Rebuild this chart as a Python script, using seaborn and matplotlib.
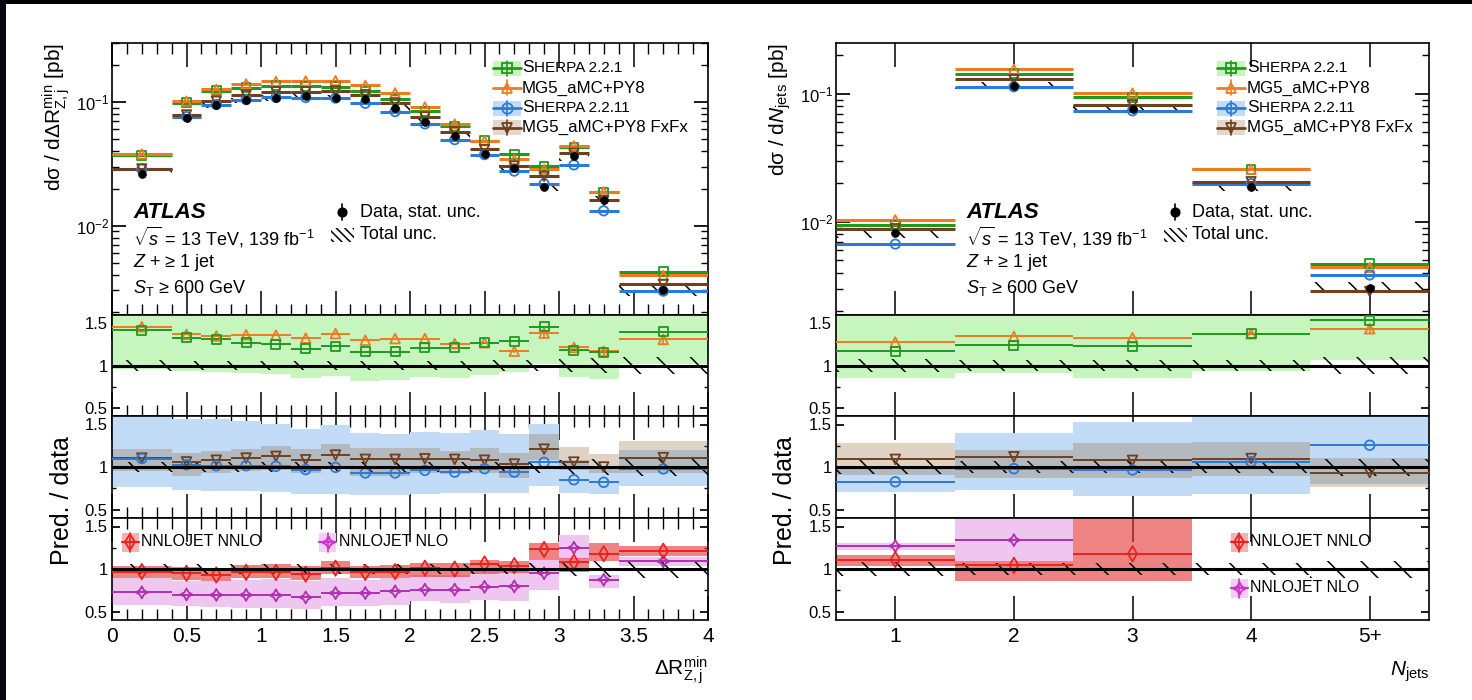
import numpy as np
import matplotlib
matplotlib.use("Agg")
import matplotlib.pyplot as plt
import seaborn as sns
from matplotlib.patches import Rectangle
from matplotlib.lines import Line2D
from matplotlib.ticker import MultipleLocator, FixedLocator, FuncFormatter, LogLocator, NullFormatter, NullLocator
from matplotlib.offsetbox import TextArea, HPacker, AnnotationBbox

# ---------------------------------------------------------------- left: dR(Z,j)
dr_edges = [0.0, 0.4, 0.6, 0.8, 1.0, 1.2, 1.4, 1.6, 1.8, 2.0, 2.2, 2.4, 2.6, 2.8, 3.0, 3.2, 3.4, 4.0]
dr_data = [0.0261, 0.0743, 0.094, 0.103, 0.108, 0.112, 0.108, 0.105, 0.090, 0.0693, 0.0528,
           0.0383, 0.0294, 0.0207, 0.0365, 0.0161, 0.00303]
dr_tot_unc = [0.06, 0.055, 0.055, 0.055, 0.055, 0.055, 0.055, 0.055, 0.055, 0.055, 0.055,
              0.06, 0.06, 0.07, 0.08, 0.09, 0.10]
# ratios prediction / data
dr_sherpa221 = [1.42, 1.33, 1.31, 1.27, 1.255, 1.20, 1.23, 1.165, 1.165, 1.21, 1.21, 1.27, 1.29, 1.46, 1.18, 1.16, 1.40]
dr_sherpa221_lo = [0.96, 0.94, 0.92, 0.91, 0.895, 0.855, 0.88, 0.82, 0.83, 0.86, 0.855, 0.89, 0.92, 1.02, 0.86, 0.835, 1.02]
dr_sherpa221_hi = [1.88, 1.72, 1.70, 1.63, 1.62, 1.65, 1.66, 1.61, 1.62, 1.65, 1.66, 1.65, 1.66, 1.90, 1.70, 1.68, 1.78]
dr_mg5 = [1.46, 1.37, 1.35, 1.365, 1.36, 1.325, 1.38, 1.30, 1.32, 1.32, 1.26, 1.27, 1.17, 1.385, 1.215, 1.17, 1.31]
dr_mg5_err = [0.02, 0.01, 0.01, 0.01, 0.01, 0.01, 0.02, 0.01, 0.01, 0.01, 0.01, 0.01, 0.02, 0.05, 0.02, 0.05, 0.07]
dr_sherpa2211 = [1.10, 1.027, 1.015, 1.015, 1.008, 0.97, 0.996, 0.93, 0.93, 0.96, 0.94, 0.98, 0.94, 1.054, 0.85, 0.82, 0.977]
dr_sherpa2211_lo = [0.763, 0.725, 0.72, 0.72, 0.71, 0.686, 0.68, 0.674, 0.674, 0.68, 0.697, 0.697, 0.697, 0.78, 0.70, 0.68, 0.78]
dr_sherpa2211_hi = [1.65, 1.57, 1.56, 1.54, 1.51, 1.45, 1.49, 1.395, 1.39, 1.41, 1.395, 1.44, 1.39, 1.51, 1.085, 1.00, 1.20]
dr_fxfx = [1.105, 1.06, 1.08, 1.105, 1.125, 1.085, 1.14, 1.09, 1.09, 1.097, 1.09, 1.08, 1.035, 1.21, 1.058, 1.0, 1.11]
dr_fxfx_lo = [0.957, 0.90, 0.93, 0.95, 0.97, 0.93, 0.99, 0.90, 0.90, 0.93, 0.915, 0.93, 0.872, 1.085, 0.97, 0.93, 0.93]
dr_fxfx_hi = [1.21, 1.163, 1.19, 1.21, 1.25, 1.21, 1.27, 1.22, 1.22, 1.228, 1.19, 1.22, 1.163, 1.383, 1.24, 1.15, 1.306]
dr_nnlo = [0.97, 0.95, 0.93, 0.96, 0.96, 0.94, 1.01, 0.96, 0.97, 1.01, 1.0, 1.06, 1.04, 1.23, 1.08, 1.18, 1.21]
dr_nnlo_lo = [0.90, 0.87, 0.86, 0.89, 0.89, 0.87, 0.94, 0.89, 0.90, 0.91, 0.91, 0.945, 0.95, 1.11, 0.97, 1.09, 1.15]
dr_nnlo_hi = [1.04, 1.02, 1.01, 1.05, 1.06, 1.03, 1.10, 1.03, 1.05, 1.07, 1.07, 1.11, 1.09, 1.31, 1.13, 1.31, 1.27]
dr_nlo = [0.725, 0.70, 0.695, 0.695, 0.69, 0.666, 0.717, 0.717, 0.737, 0.757, 0.757, 0.79, 0.795, 0.95, 1.25, 0.874, 1.09]
dr_nlo_lo = [0.58, 0.56, 0.55, 0.545, 0.545, 0.53, 0.56, 0.56, 0.58, 0.62, 0.60, 0.64, 0.62, 0.75, 1.12, 0.78, 1.04]
dr_nlo_hi = [0.894, 0.855, 0.855, 0.874, 0.88, 0.855, 0.894, 0.874, 0.894, 0.933, 0.933, 0.972, 0.972, 1.11, 1.40, 0.933, 1.14]

# ---------------------------------------------------------------- right: N_jets
nj_labels = ["1", "2", "3", "4", "5+"]
nj_pos = [1, 2, 3, 4, 5]
nj_edges = [0.5, 1.5, 2.5, 3.5, 4.5, 5.5]
nj_data = [0.00811, 0.116, 0.0764, 0.01875, 0.00306]
nj_tot_unc = [0.08, 0.065, 0.065, 0.07, 0.10]
nj_sherpa221 = [1.167, 1.238, 1.23, 1.377, 1.536]
nj_sherpa221_lo = [0.85, 0.91, 0.85, 0.93, 1.07]
nj_sherpa221_hi = [1.70, 1.75, 1.75, 1.85, 2.00]
nj_mg5 = [1.278, 1.345, 1.33, 1.377, 1.437]
nj_mg5_err = [0.01, 0.01, 0.01, 0.02, 0.05]
nj_sherpa2211 = [0.826, 0.98, 0.965, 1.062, 1.256]
nj_sherpa2211_lo = [0.71, 0.733, 0.663, 0.68, 0.80]
nj_sherpa2211_hi = [0.99, 1.40, 1.527, 1.70, 1.75]
nj_fxfx = [1.09, 1.12, 1.078, 1.10, 0.934]
nj_fxfx_lo = [0.91, 0.876, 0.868, 0.895, 0.767]
nj_fxfx_hi = [1.283, 1.20, 1.283, 1.295, 1.11]
nj_nnlo = [1.111, 1.044, 1.179, np.nan, np.nan]
nj_nnlo_lo = [1.04, 0.853, 0.853, np.nan, np.nan]
nj_nnlo_hi = [1.159, 1.09, 1.80, np.nan, np.nan]
nj_nlo = [1.27, 1.34, np.nan, np.nan, np.nan]
nj_nlo_lo = [1.22, 1.09, np.nan, np.nan, np.nan]
nj_nlo_hi = [1.31, 1.80, np.nan, np.nan, np.nan]

# ---------------------------------------------------------------- style
C_GREEN = "#1f9a1f"
C_ORANGE = "#f07a22"
C_BLUE = "#2a7ad8"
C_BROWN = "#6e4020"
C_RED = "#e8231e"
C_MAG = "#b030b0"
B_GREEN = "#c6f5bd"
B_BLUE = "#c2dbf6"
B_BROWN = (0.55, 0.38, 0.20, 0.28)
B_RED = (0.90, 0.22, 0.22, 0.62)
B_PINK = "#efc6ef"

sns.set_theme(style="ticks")
plt.rcParams["font.family"] = ["Liberation Sans", "DejaVu Sans"]
plt.rcParams["mathtext.fontset"] = "custom"
plt.rcParams["mathtext.rm"] = "Liberation Sans"
plt.rcParams["mathtext.it"] = "Liberation Sans:italic"
plt.rcParams["mathtext.bf"] = "Liberation Sans:bold"
plt.rcParams["hatch.linewidth"] = 1.1
plt.rcParams["axes.linewidth"] = 1.2
plt.rcParams["axes.edgecolor"] = "black"
plt.rcParams["xtick.color"] = "black"
plt.rcParams["ytick.color"] = "black"
plt.rcParams["text.color"] = "black"

W, H = 1472, 700
fig = plt.figure(figsize=(W / 100, H / 100), dpi=100)
fig.patch.set_facecolor("white")


def add_ax(x0, x1, y0, y1):
    return fig.add_axes([x0 / W, 1 - y1 / H, (x1 - x0) / W, (y1 - y0) / H])


rows = [(43, 315), (315, 416), (416, 518), (518, 620)]
L = [add_ax(112, 708, *r) for r in rows]
R = [add_ax(836, 1429, *r) for r in rows]


def arr(v):
    return np.asarray(v, dtype=float)


def centers(edges):
    e = arr(edges)
    return 0.5 * (e[:-1] + e[1:])


def hbins(ax, edges, vals, color, lw, z=4):
    e, v = arr(edges), arr(vals)
    m = np.isfinite(v)
    ax.hlines(v[m], e[:-1][m], e[1:][m], colors=color, lw=lw, zorder=z)


def band(ax, edges, lo, hi, color, z=1):
    e, lo, hi = arr(edges), arr(lo), arr(hi)
    m = np.isfinite(lo)
    ax.bar(e[:-1][m], (hi - lo)[m], bottom=lo[m], width=np.diff(e)[m], align="edge",
           color=color, lw=0, zorder=z)


def hatch_band(ax, edges, lo, hi, z=3):
    e, lo, hi = arr(edges), arr(lo), arr(hi)
    ax.bar(e[:-1], hi - lo, bottom=lo, width=np.diff(e), align="edge", fill=False,
           hatch="\\", edgecolor="black", lw=0, zorder=z)


def marks(ax, x, y, color, marker, s=48, lw=1.3, z=6, face="none"):
    x, y = arr(x), arr(y)
    m = np.isfinite(y)
    sns.scatterplot(x=x[m], y=y[m], marker=marker, s=s, color=face, edgecolor=color,
                    linewidth=lw, ax=ax, zorder=z, legend=False)


def errs(ax, x, y, e, color, lw=1.2, z=5):
    x, y, e = arr(x), arr(y), arr(e)
    ax.vlines(x, y - e, y + e, colors=color, lw=lw, zorder=z)


def px_to_axes(ax, x, y):
    bb = ax.get_position()
    return ((x / W) - bb.x0) / bb.width, ((1 - y / H) - bb.y0) / bb.height


def handle(ax, xc, yc, color, marker, band_color=None, w=28, h=15, ms=7.5, lw=2.0, mfc="none", vbar=True):
    bb = ax.get_position()
    aw, ah = bb.width * W, bb.height * H
    x, y = px_to_axes(ax, xc, yc)
    dx, dy = w / aw / 2, h / ah / 2
    if band_color is not None:
        ax.add_patch(Rectangle((x - dx, y - dy), 2 * dx, 2 * dy, transform=ax.transAxes,
                               facecolor=band_color, edgecolor="none", zorder=8))
    if lw > 0:
        ax.add_line(Line2D([x - dx, x + dx], [y, y], transform=ax.transAxes, color=color, lw=lw, zorder=9))
    if vbar:
        ax.add_line(Line2D([x, x], [y - dy, y + dy], transform=ax.transAxes, color=color, lw=1.2, zorder=9))
    ax.add_line(Line2D([x], [y], transform=ax.transAxes, marker=marker, ms=ms, mfc=mfc, mec=color,
                       mew=1.3, ls="none", zorder=10))


def hatch_handle(ax, xc, yc, w=23, h=14):
    bb = ax.get_position()
    aw, ah = bb.width * W, bb.height * H
    x, y = px_to_axes(ax, xc, yc)
    dx, dy = w / aw / 2, h / ah / 2
    ax.add_patch(Rectangle((x - dx, y - dy), 2 * dx, 2 * dy, transform=ax.transAxes, fill=False,
                           hatch="\\\\\\\\", edgecolor="black", lw=0, zorder=8))


def label(ax, x, y, s, **kw):
    ax_x, ax_y = px_to_axes(ax, x, y)
    kw.setdefault("fontsize", 13)
    ax.text(ax_x, ax_y, s, transform=ax.transAxes, va="center", ha="left", **kw)


def smallcaps(ax, x, y, big, small, size=12.5):
    ax_x, ax_y = px_to_axes(ax, x, y)
    box = HPacker(children=[TextArea(big, textprops=dict(fontsize=size)),
                            TextArea(small, textprops=dict(fontsize=size * 0.88))],
                  align="baseline", pad=0, sep=0)
    ab = AnnotationBbox(box, (ax_x, ax_y), xycoords="axes fraction", box_alignment=(0, 0.5),
                        frameon=False, pad=0)
    ax.add_artist(ab)


# ---------------------------------------------------------------- draw one column
def draw_column(axes, edges, data, tot, s221, s221_lo, s221_hi, mg5, mg5_err, s2211, s2211_lo, s2211_hi,
                fxfx, fxfx_lo, fxfx_hi, nnlo, nnlo_lo, nnlo_hi, nlo, nlo_lo, nlo_hi, ylim_top):
    e = arr(edges)
    c = centers(edges)
    d, u = arr(data), arr(tot)
    ax0, ax1, ax2, ax3 = axes

    # main panel
    ax0.set_yscale("log")
    hatch_band(ax0, e, d * (1 - u), d * (1 + u))
    for vals, col in [(s221, C_GREEN), (mg5, C_ORANGE), (s2211, C_BLUE), (fxfx, C_BROWN)]:
        hbins(ax0, e, d * arr(vals), col, 2.2)
    marks(ax0, c, d * arr(s221), C_GREEN, "s", s=40)
    marks(ax0, c, d * arr(mg5), C_ORANGE, "^", s=45)
    marks(ax0, c, d * arr(s2211), C_BLUE, "o", s=45)
    marks(ax0, c, d * arr(fxfx), C_BROWN, "v", s=45)
    marks(ax0, c, d, "black", "o", s=32, face="black", lw=0.5, z=8)
    ax0.set_ylim(*ylim_top)

    # ratio 1
    band(ax1, e, s221_lo, s221_hi, B_GREEN)
    hatch_band(ax1, e, 1 - u, 1 + u)
    hbins(ax1, e, mg5, C_ORANGE, 1.4)
    hbins(ax1, e, s221, C_GREEN, 1.4)
    errs(ax1, c, mg5, mg5_err, C_ORANGE)
    marks(ax1, c, mg5, C_ORANGE, "^")
    marks(ax1, c, s221, C_GREEN, "s", s=42)

    # ratio 2
    band(ax2, e, s2211_lo, s2211_hi, B_BLUE)
    band(ax2, e, fxfx_lo, fxfx_hi, B_BROWN, z=2)
    hatch_band(ax2, e, 1 - u, 1 + u)
    hbins(ax2, e, fxfx, C_BROWN, 1.4)
    hbins(ax2, e, s2211, C_BLUE, 1.4)
    marks(ax2, c, fxfx, C_BROWN, "v")
    marks(ax2, c, s2211, C_BLUE, "o")

    # ratio 3
    band(ax3, e, nlo_lo, nlo_hi, B_PINK)
    band(ax3, e, nnlo_lo, nnlo_hi, B_RED, z=2)
    hatch_band(ax3, e, 1 - u, 1 + u)
    hbins(ax3, e, nlo, C_MAG, 1.4)
    hbins(ax3, e, nnlo, C_RED, 1.4)
    marks(ax3, c, nlo, C_MAG, (4, 1, 0), s=75)
    marks(ax3, c, nnlo, C_RED, "d", s=60)

    for ax in (ax1, ax2, ax3):
        ax.set_ylim(0.4, 1.6)
        ax.axhline(1.0, color="black", lw=2.2, zorder=7)
        ax.yaxis.set_major_locator(FixedLocator([0.5, 1.0, 1.5]))
        ax.yaxis.set_major_formatter(FuncFormatter(lambda v, p: f"{v:g}"))
        ax.yaxis.set_minor_locator(FixedLocator([0.75, 1.25]))
        ax.tick_params(axis="y", which="major", direction="in", length=6, left=True, right=True,
                       labelsize=12, pad=3)
        ax.tick_params(axis="y", which="minor", direction="in", length=3, left=True, right=True)
    ax0.yaxis.set_minor_formatter(NullFormatter())
    ax0.tick_params(axis="y", which="major", direction="in", length=10, left=True, right=True,
                    labelsize=12, pad=2)
    ax0.tick_params(axis="y", which="minor", direction="in", length=5, left=True, right=True)
    for ax in axes:
        ax.set_xlim(e[0], e[-1])
        ax.set_xlabel("")
        ax.set_ylabel("")
        ax.tick_params(axis="x", which="major", direction="in", length=17, top=True, bottom=True,
                       labelbottom=False, width=1.1)
        ax.tick_params(axis="x", which="minor", direction="in", length=8, top=True, bottom=True, width=1.0)
        for sp in ax.spines.values():
            sp.set_color("black")
            sp.set_linewidth(1.2)
    ax3.tick_params(axis="x", which="major", labelbottom=True, labelsize=15, pad=5)


draw_column(L, dr_edges, dr_data, dr_tot_unc, dr_sherpa221, dr_sherpa221_lo, dr_sherpa221_hi,
            dr_mg5, dr_mg5_err, dr_sherpa2211, dr_sherpa2211_lo, dr_sherpa2211_hi,
            dr_fxfx, dr_fxfx_lo, dr_fxfx_hi, dr_nnlo, dr_nnlo_lo, dr_nnlo_hi,
            dr_nlo, dr_nlo_lo, dr_nlo_hi, (1.9e-3, 0.30))
draw_column(R, nj_edges, nj_data, nj_tot_unc, nj_sherpa221, nj_sherpa221_lo, nj_sherpa221_hi,
            nj_mg5, nj_mg5_err, nj_sherpa2211, nj_sherpa2211_lo, nj_sherpa2211_hi,
            nj_fxfx, nj_fxfx_lo, nj_fxfx_hi, nj_nnlo, nj_nnlo_lo, nj_nnlo_hi,
            nj_nlo, nj_nlo_lo, nj_nlo_hi, (1.87e-3, 0.25))

for ax in L:
    ax.xaxis.set_major_locator(MultipleLocator(0.5))
    ax.xaxis.set_minor_locator(MultipleLocator(0.1))
    ax.xaxis.set_major_formatter(FuncFormatter(lambda v, p: f"{v:g}"))
for ax in R:
    ax.xaxis.set_major_locator(FixedLocator(nj_pos))
    ax.xaxis.set_minor_locator(NullLocator())
    ax.xaxis.set_major_formatter(FuncFormatter(lambda v, p: nj_labels[int(round(v)) - 1]
                                               if 1 <= round(v) <= 5 else ""))
for ax in (L[0], R[0]):
    ax.yaxis.set_major_locator(LogLocator(base=10))
    ax.yaxis.set_minor_locator(LogLocator(base=10, subs=np.arange(2, 10)))
    ax.yaxis.set_minor_formatter(NullFormatter())

# ---------------------------------------------------------------- legends & labels
for ax, hx, tx in [(L[0], 507, 522), (R[0], 1231, 1247)]:
    handle(ax, hx, 68, C_GREEN, "s", B_GREEN, ms=7)
    smallcaps(ax, tx, 68, "S", "HERPA 2.2.1")
    handle(ax, hx, 88, C_ORANGE, "^", None)
    label(ax, tx, 88, "MG5_aMC+PY8", fontsize=12.2)
    handle(ax, hx, 108, C_BLUE, "o", B_BLUE)
    smallcaps(ax, tx, 108, "S", "HERPA 2.2.11")
    handle(ax, hx, 127.5, C_BROWN, "v", (0.55, 0.38, 0.20, 0.25))
    label(ax, tx, 127.5, "MG5_aMC+PY8 FxFx", fontsize=12.2)

for ax, ax_x, mx, tx in [(L[0], 133, 342, 360), (R[0], 966, 1175, 1192)]:
    label(ax, ax_x, 212, "ATLAS", fontsize=16, fontweight="bold", fontstyle="italic")
    label(ax, ax_x, 237, r"$\sqrt{s}$ = 13 TeV, 139 fb$^{-1}$")
    label(ax, ax_x, 263, "$Z$ + ≥ 1 jet")
    label(ax, ax_x, 288, r"$S_\mathrm{T}$ ≥ 600 GeV")
    handle(ax, mx, 212, "black", "o", None, w=0, h=16, ms=6, lw=0, mfc="black")
    label(ax, tx, 212, "Data, stat. unc.")
    hatch_handle(ax, mx, 235)
    label(ax, tx, 235, "Total unc.")

handle(L[3], 130, 542, C_RED, "d", "#f5b2b2", w=17, h=19, ms=8, lw=1.6)
label(L[3], 141, 542, "NNLOJET NNLO", fontsize=11.5)
handle(L[3], 328, 542, "#cc33cc", (4, 1, 0), "#f5ccf5", w=17, h=19, ms=9, lw=1.6)
label(L[3], 339, 542, "NNLOJET NLO", fontsize=11.5)
handle(R[3], 1239, 542, C_RED, "d", "#f5b2b2", w=17, h=19, ms=8, lw=1.6)
label(R[3], 1250, 542, "NNLOJET NNLO", fontsize=11.5)
handle(R[3], 1239, 588, "#cc33cc", (4, 1, 0), "#f5ccf5", w=17, h=19, ms=9, lw=1.6)
label(R[3], 1250, 588, "NNLOJET NLO", fontsize=11.5)

fig.text(56 / W, 1 - 43 / H, r"dσ / dΔ$\mathregular{R^{min}_{Z,j}}$ [pb]", rotation=90,
         ha="center", va="top", fontsize=15)
fig.text(780 / W, 1 - 43 / H, r"dσ / d$N_\mathregular{jets}$ [pb]", rotation=90,
         ha="center", va="top", fontsize=15)
fig.text(62 / W, 1 - 501 / H, "Pred. / data", rotation=90, ha="center", va="center", fontsize=18)
fig.text(785 / W, 1 - 501 / H, "Pred. / data", rotation=90, ha="center", va="center", fontsize=18)
fig.text(708 / W, 1 - 670 / H, r"Δ$\mathregular{R^{min}_{Z,j}}$", ha="right", va="center", fontsize=15)
fig.text(1429 / W, 1 - 672 / H, r"$N_\mathregular{jets}$", ha="right", va="center", fontsize=15)

# dark frame strips of the screenshot
fig.add_artist(Rectangle((0, 1 - 4 / H), 1, 4 / H, transform=fig.transFigure, facecolor="black",
                         edgecolor="none", zorder=20))
fig.add_artist(Rectangle((0, 0), 6 / W, 1, transform=fig.transFigure, facecolor="#08080f",
                         edgecolor="none", zorder=20))

fig.savefig("out.png", dpi=100)
